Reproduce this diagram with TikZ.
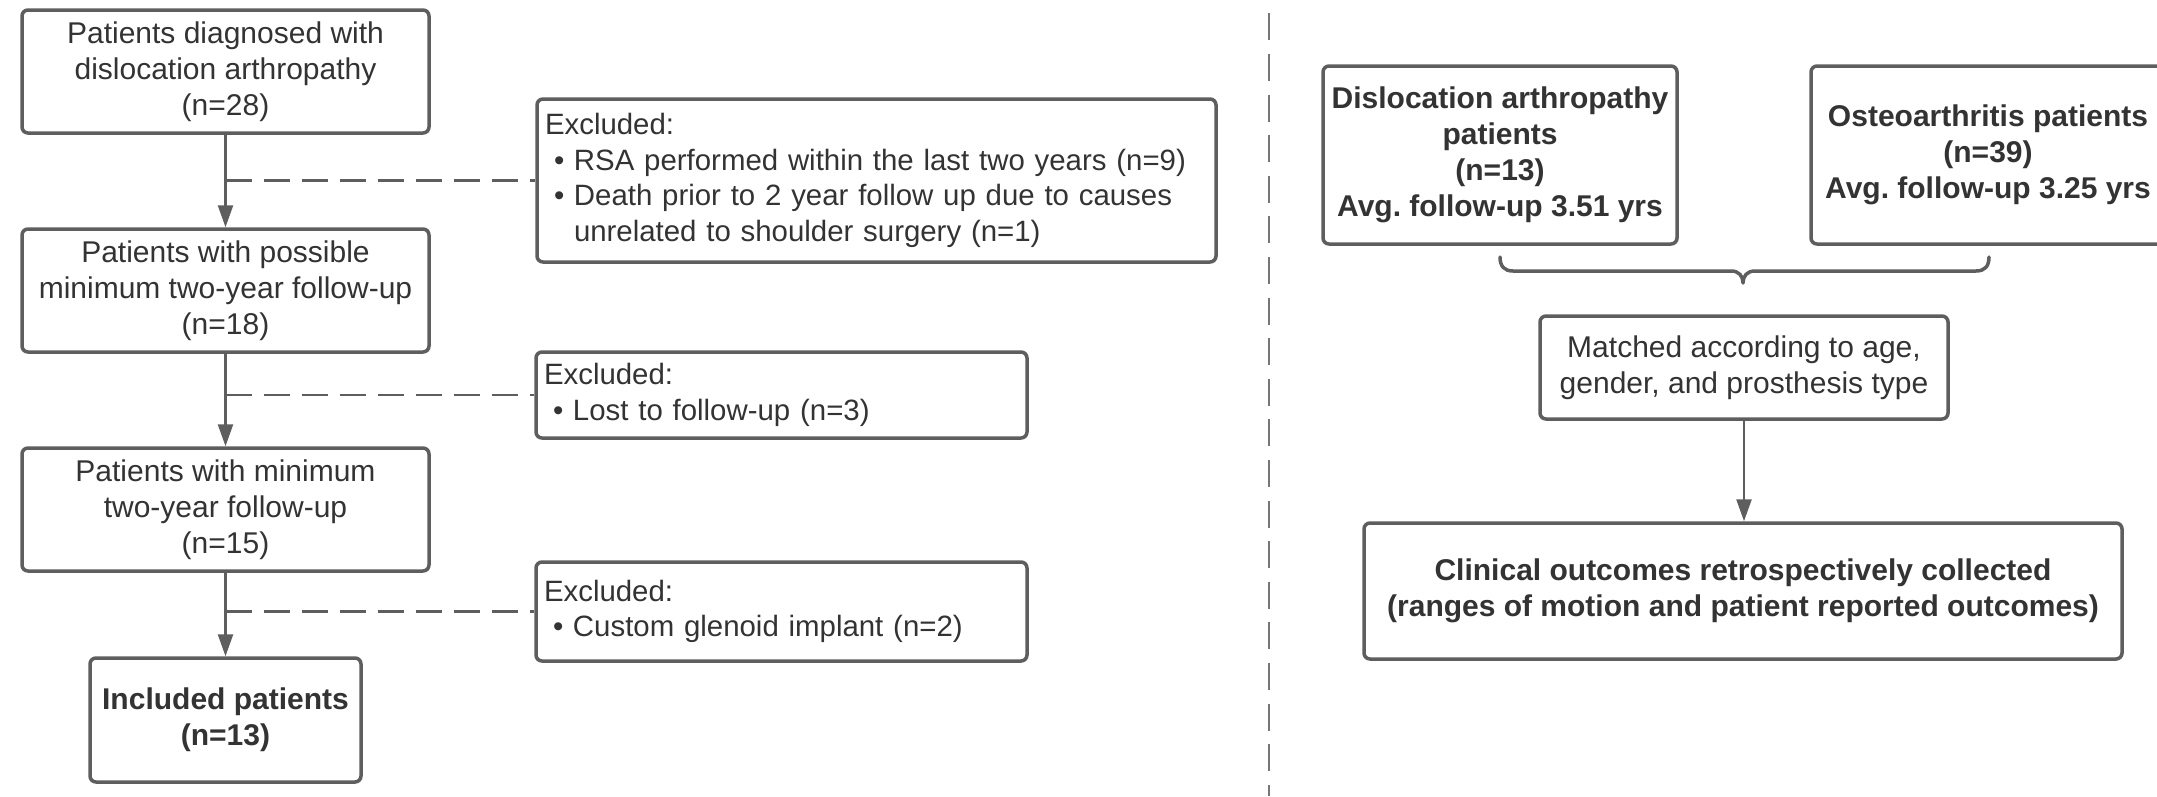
\documentclass[tikz,border=0pt]{standalone}
\usepackage{fontspec}
\setmainfont{Liberation Sans}
\usetikzlibrary{arrows.meta}
\definecolor{linegray}{HTML}{5E5E5E}
\definecolor{textgray}{HTML}{333333}
\newcommand\bul{\hspace*{9pt}\makebox[20pt][l]{•}}
\newcommand\contind{\hspace*{29pt}}
\frenchspacing
\begin{document}
\begin{tikzpicture}[x=1pt,y=-1pt,
  box/.style={draw=linegray, line width=3.5pt, rounded corners=6pt, fill=white,
    align=center, inner sep=0pt, text=textgray,
    font=\fontsize{30}{36}\selectfont},
  boldbox/.style={box, font=\fontsize{30}{36}\selectfont\bfseries},
  exbox/.style={draw=linegray, line width=3.5pt, rounded corners=6pt, fill=white,
    align=left, inner xsep=8pt, inner ysep=0pt, text=textgray,
    font=\fontsize{29.4}{35.5}\selectfont},
  flow/.style={draw=linegray, line width=2.5pt, -{Triangle[length=22pt,width=15pt]}},
  dashline/.style={draw=linegray, line width=2.5pt, dash pattern=on 26pt off 12pt},
  divider/.style={draw=linegray!85, line width=2.5pt, dash pattern=on 27pt off 13.6pt, dash phase=27.3pt},
  bracestyle/.style={draw=linegray, line width=3.5pt, line cap=round, line join=round}
]
\useasboundingbox (0,0) rectangle (2157,796);

% left column
\node[box, minimum width=407pt, minimum height=123pt] (b1) at (225.5,71.5)
  {Patients diagnosed with\\dislocation arthropathy\\(n=28)};
\node[box, minimum width=407pt, minimum height=123pt] (b2) at (225.5,290.5)
  {Patients with possible\\minimum two-year follow-up\\(n=18)};
\node[box, minimum width=407pt, minimum height=123pt] (b3) at (225.5,509.5)
  {Patients with minimum\\two-year follow-up\\(n=15)};
\node[boldbox, minimum width=271pt, minimum height=124pt] (b4) at (225.5,720)
  {Included patients\\(n=13)};

\node[exbox, text width=663pt, minimum height=163pt] (e1) at (876.5,180.5)
  {Excluded:\\\bul RSA performed within the last two years (n=9)\\\bul Death prior to 2 year follow up due to causes\\\contind unrelated to shoulder surgery (n=1)};
\node[exbox, text width=475pt, minimum height=86pt] (e2) at (781.5,395)
  {Excluded:\\\bul Lost to follow-up (n=3)};
\node[exbox, text width=475pt, minimum height=99pt] (e3) at (781.5,611.5)
  {Excluded:\\\bul Custom glenoid implant (n=2)};

\draw[flow] (b1.south) -- (b2.north);
\draw[flow] (b2.south) -- (b3.north);
\draw[flow] (b3.south) -- (b4.north);
\draw[dashline] (b1.south |- e1.west) -- (e1.west);
\draw[dashline] (b2.south |- e2.west) -- (e2.west);
\draw[dashline] (b3.south |- e3.west) -- (e3.west);

% divider
\coordinate (dtop) at (1269,0);
\coordinate (dbot) at (1269,796);
\draw[divider] (dtop) -- (dbot);

% right column
\node[boldbox, minimum width=354pt, minimum height=178pt] (da) at (1500,155)
  {Dislocation arthropathy\\patients\\(n=13)\\Avg. follow-up 3.51 yrs};
\node[boldbox, minimum width=354pt, minimum height=178pt] (oa) at (1988,155)
  {Osteoarthritis patients\\(n=39)\\Avg. follow-up 3.25 yrs};
\node[box, minimum width=408pt, minimum height=103pt] (m) at (1744,367.5)
  {Matched according to age,\\gender, and prosthesis type};
\node[boldbox, minimum width=758pt, minimum height=136pt] (c) at (1743,591)
  {Clinical outcomes retrospectively collected\\(ranges of motion and patient reported outcomes)};

\draw[flow] (m.south) -- (m.south |- c.north);

% brace
\draw[bracestyle] (1500,257)
  .. controls (1500,266) and (1504,271) .. (1513,271)
  -- (1731,271) .. controls (1739,271) and (1743,276) .. (1743,283)
  .. controls (1743,276) and (1747,271) .. (1755,271)
  -- (1976,271) .. controls (1985,271) and (1989,266) .. (1989,257);
\end{tikzpicture}
\end{document}
